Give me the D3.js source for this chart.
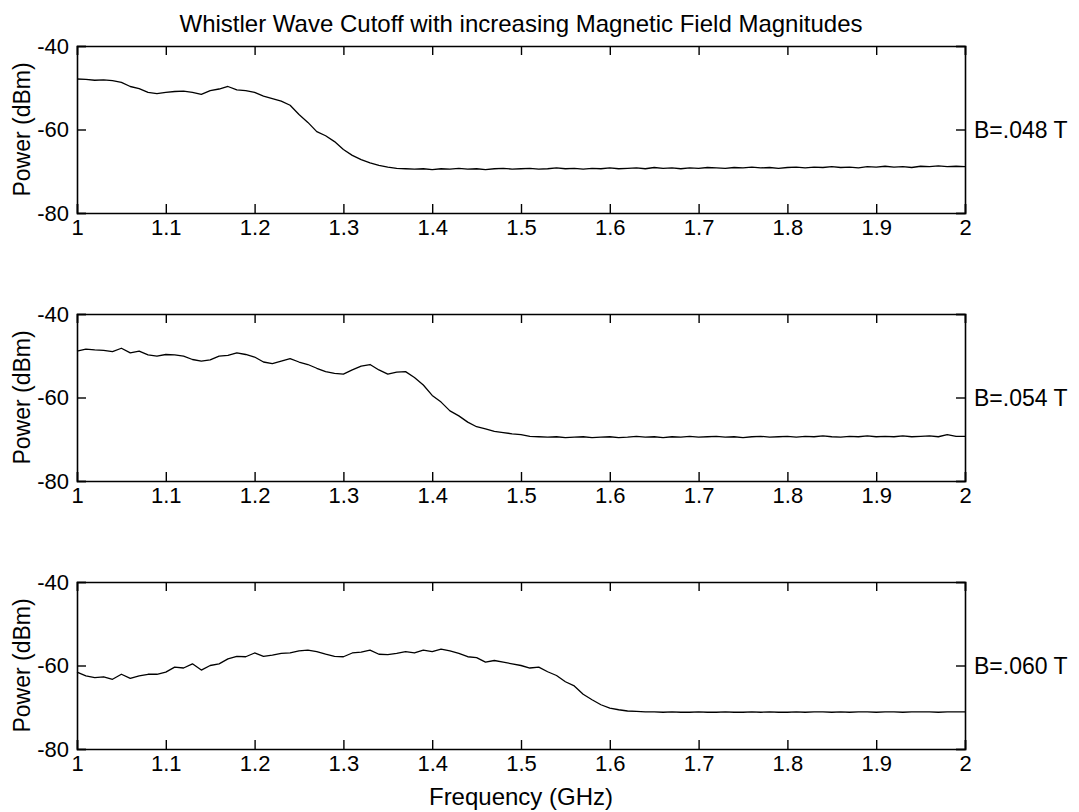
<!DOCTYPE html>
<html><head><meta charset="utf-8">
<script src="https://cdn.jsdelivr.net/npm/d3@7/dist/d3.min.js"></script>
<style>body{margin:0;background:#fff}svg{display:block}text{font-family:"Liberation Sans",Arial,Helvetica,sans-serif;fill:#000}</style>
</head><body><svg id="c" width="1079" height="812"></svg>
<script>
const title = "Whistler Wave Cutoff with increasing Magnetic Field Magnitudes";
const xLabel = "Frequency (GHz)";
const yLabel = "Power (dBm)";
const panelLabels = ["B=.048 T", "B=.054 T", "B=.060 T"];
const xTicks = [1, 1.1, 1.2, 1.3, 1.4, 1.5, 1.6, 1.7, 1.8, 1.9, 2];
const xTickLabels = ["1", "1.1", "1.2", "1.3", "1.4", "1.5", "1.6", "1.7", "1.8", "1.9", "2"];
const yTicks = [-40, -60, -80];
const yTickLabels = ["-40", "-60", "-80"];
// frequency samples (GHz), step 0.01
const freq = d3.range(0, 101).map(i => +(1 + i / 100).toFixed(2));
const powerB048 = [
 -47.9,-48.0,-48.2,-48.1,-48.3,-48.7,-49.7,-50.2,-51.1,-51.4,
 -51.1,-50.9,-50.8,-51.1,-51.6,-50.7,-50.3,-49.7,-50.5,-50.7,
 -51.1,-52.0,-52.6,-53.2,-54.2,-56.4,-58.3,-60.5,-61.5,-62.9,
 -64.8,-66.2,-67.2,-68.0,-68.6,-69.0,-69.3,-69.4,-69.5,-69.4,
 -69.6,-69.4,-69.5,-69.3,-69.5,-69.4,-69.6,-69.4,-69.3,-69.5,
 -69.4,-69.3,-69.5,-69.4,-69.2,-69.4,-69.3,-69.5,-69.3,-69.4,
 -69.2,-69.4,-69.3,-69.2,-69.4,-69.1,-69.3,-69.2,-69.4,-69.2,
 -69.3,-69.1,-69.2,-69.3,-69.1,-69.2,-69.0,-69.2,-69.1,-69.3,
 -69.1,-69.0,-69.2,-69.0,-69.1,-68.9,-69.1,-69.0,-69.2,-68.9,
 -69.0,-68.8,-69.0,-68.9,-69.1,-68.8,-68.9,-68.7,-68.9,-68.8,-68.9
];
const powerB054 = [
 -48.9,-48.4,-48.6,-48.7,-49.0,-48.2,-49.3,-48.9,-49.8,-50.1,
 -49.7,-49.8,-50.1,-50.9,-51.3,-51.0,-50.1,-49.9,-49.3,-49.7,
 -50.3,-51.5,-51.9,-51.3,-50.7,-51.5,-52.1,-53.0,-53.8,-54.2,
 -54.4,-53.4,-52.5,-52.1,-53.4,-54.4,-53.9,-53.8,-55.2,-57.0,
 -59.5,-61.1,-63.2,-64.4,-65.9,-67.0,-67.5,-68.1,-68.4,-68.7,
 -68.9,-69.3,-69.4,-69.5,-69.4,-69.6,-69.5,-69.4,-69.6,-69.5,
 -69.4,-69.6,-69.5,-69.3,-69.5,-69.4,-69.6,-69.4,-69.5,-69.3,
 -69.5,-69.4,-69.3,-69.5,-69.4,-69.6,-69.4,-69.3,-69.5,-69.4,
 -69.3,-69.5,-69.3,-69.4,-69.2,-69.4,-69.5,-69.3,-69.4,-69.2,
 -69.4,-69.3,-69.4,-69.2,-69.4,-69.3,-69.2,-69.4,-68.9,-69.3,-69.3
];
const powerB060 = [
 -61.6,-62.5,-62.9,-62.7,-63.3,-62.1,-63.1,-62.5,-62.1,-62.1,
 -61.6,-60.4,-60.6,-59.6,-61.1,-60.0,-59.6,-58.4,-57.8,-57.9,
 -57.0,-57.8,-57.5,-57.1,-57.0,-56.5,-56.3,-56.7,-57.3,-57.8,
 -57.9,-57.0,-56.8,-56.3,-57.3,-57.4,-57.1,-56.7,-57.0,-56.3,
 -56.7,-56.1,-56.5,-57.1,-57.9,-58.1,-59.2,-58.8,-59.2,-59.6,
 -60.0,-60.6,-60.4,-61.5,-62.4,-63.9,-64.9,-66.9,-68.2,-69.4,
 -70.2,-70.6,-70.9,-71.0,-71.1,-71.1,-71.2,-71.1,-71.2,-71.2,
 -71.1,-71.2,-71.2,-71.1,-71.2,-71.2,-71.1,-71.2,-71.1,-71.2,
 -71.2,-71.1,-71.2,-71.1,-71.1,-71.2,-71.1,-71.2,-71.1,-71.1,
 -71.2,-71.1,-71.1,-71.2,-71.1,-71.1,-71.1,-71.2,-71.1,-71.1,-71.1
];
const series = [powerB048, powerB054, powerB060];

const svg = d3.select("#c");
const left = 77, right = 965, panelH = 167, tops = [46, 314, 582];
const x = d3.scaleLinear().domain([1, 2]).range([left, right]);
const tickFont = 22, labelFont = 23, titleFont = 24;

svg.append("text").attr("x", (left + right) / 2).attr("y", 32)
  .attr("text-anchor", "middle").attr("font-size", titleFont).text(title);

series.forEach((vals, i) => {
  const top = tops[i], bottom = top + panelH;
  const y = d3.scaleLinear().domain([-80, -40]).range([bottom, top]);
  const g = svg.append("g");
  const line = d3.line().x((d, k) => x(freq[k])).y(d => y(d));
  g.append("path").datum(vals).attr("d", line)
    .attr("fill", "none").attr("stroke", "#000").attr("stroke-width", 1.3)
    .attr("stroke-linejoin", "round");
  const axB = d3.axisBottom(x).tickValues(xTicks).tickSize(-9).tickFormat((d, k) => xTickLabels[k]).tickPadding(6);
  const axT = d3.axisTop(x).tickValues(xTicks).tickSize(-9).tickFormat("");
  const axL = d3.axisLeft(y).tickValues(yTicks).tickSize(-9).tickFormat((d, k) => yTickLabels[k]).tickPadding(8);
  const axR = d3.axisRight(y).tickValues(yTicks).tickSize(-9).tickFormat("");
  [[axB, `translate(0,${bottom})`], [axT, `translate(0,${top})`], [axL, `translate(${left},0)`], [axR, `translate(${right},0)`]]
    .forEach(([ax, tr]) => {
      const a = g.append("g").attr("transform", tr).call(ax);
      a.select(".domain").attr("stroke", "#000").attr("stroke-width", 1.6);
      a.selectAll(".tick line").attr("stroke", "#000").attr("stroke-width", 1.4);
      a.selectAll("text").attr("font-size", tickFont).attr("font-family", "Liberation Sans, Arial, sans-serif").attr("fill", "#000");
    });
  g.append("text").attr("transform", `translate(30,${(top + bottom) / 2}) rotate(-90)`)
    .attr("text-anchor", "middle").attr("font-size", labelFont).text(yLabel);
  g.append("text").attr("x", right + 9).attr("y", y(-60)).attr("dy", "0.35em")
    .attr("font-size", labelFont).text(panelLabels[i]);
});

svg.append("text").attr("x", (left + right) / 2).attr("y", 805)
  .attr("text-anchor", "middle").attr("font-size", 24).text(xLabel);
</script></body></html>
